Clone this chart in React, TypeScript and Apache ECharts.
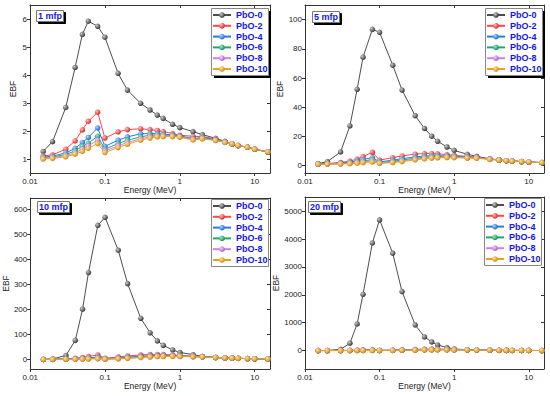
import React, { useEffect, useRef } from "react";
import * as echarts from "echarts";

const energies = [0.015, 0.02, 0.03, 0.04, 0.05, 0.06, 0.08, 0.1, 0.15, 0.2, 0.3, 0.4, 0.5, 0.6, 0.8, 1, 1.5, 2, 3, 4, 5, 6, 8, 10, 15];
const seriesNames = ["PbO-0", "PbO-2", "PbO-4", "PbO-6", "PbO-8", "PbO-10"];
const panelTitles = ["1 mfp", "5 mfp", "10 mfp", "20 mfp"];
const xTicks = [0.01, 0.1, 1, 10];
const yTicks1 = [1, 2, 3, 4, 5, 6];
const yTicks5 = [0, 20, 40, 60, 80, 100];
const yTicks10 = [0, 100, 200, 300, 400, 500, 600];
const yTicks20 = [0, 1000, 2000, 3000, 4000, 5000];

// 1 mfp
const mfp1_pbo0 = [1.27, 1.62, 2.84, 4.27, 5.45, 5.92, 5.74, 5.35, 4.06, 3.46, 2.99, 2.75, 2.57, 2.45, 2.24, 2.12, 1.98, 1.87, 1.74, 1.63, 1.54, 1.48, 1.42, 1.35, 1.25];
const mfp1_pbo2 = [1.11, 1.15, 1.35, 1.65, 2.04, 2.35, 2.67, 1.75, 1.97, 2.05, 2.08, 2.05, 2.02, 1.98, 1.91, 1.85, 1.81, 1.8, 1.72, 1.61, 1.54, 1.48, 1.42, 1.35, 1.25];
const mfp1_pbo4 = [1.07, 1.1, 1.22, 1.38, 1.59, 1.77, 2.11, 1.45, 1.67, 1.79, 1.9, 1.91, 1.91, 1.89, 1.86, 1.83, 1.73, 1.77, 1.7, 1.61, 1.54, 1.48, 1.42, 1.35, 1.25];
const mfp1_pbo6 = [1.05, 1.07, 1.16, 1.29, 1.45, 1.57, 1.81, 1.35, 1.55, 1.67, 1.79, 1.85, 1.86, 1.85, 1.84, 1.8, 1.71, 1.75, 1.68, 1.6, 1.54, 1.48, 1.42, 1.35, 1.25];
const mfp1_pbo8 = [1.03, 1.05, 1.12, 1.22, 1.35, 1.47, 1.67, 1.29, 1.47, 1.59, 1.72, 1.79, 1.83, 1.83, 1.82, 1.79, 1.7, 1.73, 1.67, 1.6, 1.54, 1.48, 1.42, 1.35, 1.25];
const mfp1_pbo10 = [1.0, 1.02, 1.08, 1.17, 1.27, 1.38, 1.55, 1.23, 1.41, 1.53, 1.67, 1.75, 1.79, 1.8, 1.8, 1.78, 1.68, 1.72, 1.66, 1.59, 1.54, 1.48, 1.42, 1.35, 1.25];

// 5 mfp
const mfp5_pbo0 = [1.4, 2.8, 9.4, 27.3, 52.3, 74.3, 93.3, 91.3, 68.8, 51.8, 34.2, 25.5, 20.2, 16.7, 12.8, 10.5, 7.8, 6.4, 4.6, 3.9, 3.4, 3.2, 2.8, 2.5, 2.1];
const mfp5_pbo2 = [1.3, 1.5, 2.2, 3.2, 4.5, 6.2, 9.2, 3.8, 5.5, 6.7, 7.9, 8.3, 8.3, 8.1, 7.6, 7.1, 6.3, 6.0, 4.7, 3.9, 3.4, 3.2, 2.8, 2.5, 2.1];
const mfp5_pbo4 = [1.2, 1.3, 1.8, 2.5, 3.3, 4.2, 5.6, 2.6, 3.8, 4.8, 6.0, 6.6, 6.8, 6.8, 6.7, 6.5, 5.9, 5.7, 4.6, 3.9, 3.4, 3.2, 2.8, 2.5, 2.1];
const mfp5_pbo6 = [1.1, 1.2, 1.5, 2.0, 2.6, 3.2, 4.2, 2.1, 3.0, 3.9, 5.1, 5.8, 6.1, 6.2, 6.2, 6.1, 5.6, 5.5, 4.5, 3.9, 3.4, 3.2, 2.8, 2.5, 2.1];
const mfp5_pbo8 = [1.05, 1.1, 1.3, 1.7, 2.1, 2.6, 3.3, 1.8, 2.5, 3.3, 4.5, 5.2, 5.6, 5.8, 5.9, 5.8, 5.4, 5.3, 4.4, 3.8, 3.4, 3.2, 2.8, 2.5, 2.1];
const mfp5_pbo10 = [1.0, 1.05, 1.2, 1.4, 1.7, 2.1, 2.6, 1.6, 2.1, 2.8, 4.0, 4.7, 5.2, 5.4, 5.6, 5.5, 5.2, 5.1, 4.3, 3.8, 3.4, 3.1, 2.8, 2.5, 2.1];

// 10 mfp
const mfp10_pbo0 = [1, 3, 17, 77, 201, 347, 535, 567, 436, 303, 165, 107, 75, 57, 39, 29, 20, 13, 9, 7, 6, 5.5, 4.5, 3.8, 3];
const mfp10_pbo2 = [1.5, 2, 3.5, 6, 9, 13, 19, 6, 11, 15, 19, 21, 21, 21, 19, 17, 14, 13, 9, 7, 6, 5.5, 4.5, 3.8, 3];
const mfp10_pbo4 = [1.3, 1.6, 2.5, 4, 5.5, 7.5, 10.5, 3.8, 7, 10, 14, 16, 17, 17, 16, 15, 13, 12, 9, 7, 6, 5.5, 4.5, 3.8, 3];
const mfp10_pbo6 = [1.2, 1.4, 2, 3, 4, 5, 7, 3, 5.5, 8, 12, 14, 15, 15.5, 15, 14, 12.5, 11.5, 8.8, 7, 6, 5.5, 4.5, 3.8, 3];
const mfp10_pbo8 = [1.1, 1.3, 1.7, 2.3, 3, 3.8, 5, 2.5, 4.2, 6.5, 10, 12, 13.5, 14, 14, 13.5, 12, 11, 8.6, 7, 6, 5.4, 4.5, 3.8, 3];
const mfp10_pbo10 = [1.0, 1.1, 1.4, 1.8, 2.3, 2.9, 3.8, 2.1, 3.4, 5.4, 8.5, 10.5, 12, 12.8, 13, 12.8, 11.5, 10.6, 8.4, 6.9, 5.9, 5.3, 4.4, 3.7, 3];

// 20 mfp
const mfp20_pbo0 = [2, 5, 45, 265, 957, 2020, 3863, 4689, 3493, 2117, 921, 490, 311, 203, 108, 60, 30, 18, 11, 8, 6.5, 6, 5, 4, 3.2];
const mfp20_pbo2 = [1.5, 2.5, 5, 9, 15, 23, 38, 10, 20, 30, 45, 52, 55, 54, 48, 42, 32, 27, 16, 11, 8.5, 7, 5.5, 4.5, 3.4];
const mfp20_pbo4 = [1.4, 2, 3.5, 5.5, 8, 11, 16, 5.5, 12, 20, 32, 38, 41, 41, 38, 34, 27, 23, 14, 10, 8, 6.8, 5.3, 4.3, 3.3];
const mfp20_pbo6 = [1.2, 1.6, 2.6, 4, 5.5, 7.5, 10, 4.2, 9, 15, 25, 31, 34, 35, 33, 30, 24, 21, 13.5, 9.5, 7.8, 6.6, 5.2, 4.2, 3.3];
const mfp20_pbo8 = [1.1, 1.4, 2.1, 3, 4, 5.2, 7, 3.4, 7, 12, 21, 27, 30, 31, 30, 27, 23, 20, 13, 9.3, 7.6, 6.5, 5.1, 4.2, 3.3];
const mfp20_pbo10 = [1.0, 1.2, 1.7, 2.3, 3, 3.8, 5, 2.7, 5.5, 9.5, 17, 23, 26, 28, 27, 25, 21, 18.5, 12.5, 9, 7.4, 6.4, 5, 4.1, 3.2];

const panelData = [
  [mfp1_pbo0, mfp1_pbo2, mfp1_pbo4, mfp1_pbo6, mfp1_pbo8, mfp1_pbo10],
  [mfp5_pbo0, mfp5_pbo2, mfp5_pbo4, mfp5_pbo6, mfp5_pbo8, mfp5_pbo10],
  [mfp10_pbo0, mfp10_pbo2, mfp10_pbo4, mfp10_pbo6, mfp10_pbo8, mfp10_pbo10],
  [mfp20_pbo0, mfp20_pbo2, mfp20_pbo4, mfp20_pbo6, mfp20_pbo8, mfp20_pbo10],
];

const FONT = "'Liberation Sans', Arial, sans-serif";
const lineColors = ["#4d4d4d", "#ff4545", "#1f7fe6", "#1fa86e", "#cf80ea", "#eaa21a"];
const ballLight = ["#c8c8c8", "#ffc0c0", "#b0d6ff", "#9fe6c4", "#f3d2ff", "#ffe2a6"];
const ballDark = ["#2e2e2e", "#e01818", "#1060d0", "#0f8a50", "#a850d0", "#d08400"];

const grids = [
  { left: 30, top: 5, width: 240, height: 168 },
  { left: 305, top: 5, width: 239, height: 168 },
  { left: 30, top: 198, width: 240, height: 171 },
  { left: 305, top: 197, width: 239, height: 172 },
];
const yRanges = [
  { min: 0.5, max: 6.5, ticks: yTicks1, gap: 13 },
  { min: -5, max: 110, ticks: yTicks5, gap: 20 },
  { min: -37, max: 644, ticks: yTicks10, gap: 20 },
  { min: -660, max: 5510, ticks: yTicks20, gap: 24 },
];
const legendBox = [
  { x: 211, y: 8, w: 57, h: 67, shadow: true },
  { x: 485, y: 8, w: 57, h: 67, shadow: true },
  { x: 211, y: 199, w: 57, h: 67, shadow: false },
  { x: 484, y: 198, w: 57, h: 67, shadow: false },
];
const titlePos = [
  { left: 36, top: 10 },
  { left: 312, top: 11 },
  { left: 37, top: 201 },
  { left: 308, top: 201 },
];

export default function App() {
  const ref = useRef<HTMLDivElement>(null);
  useEffect(() => {
    if (!ref.current) return;
    const chart = echarts.init(ref.current, null, { renderer: "svg" });
    const xAxis: any[] = [];
    const yAxis: any[] = [];
    const series: any[] = [];
    const legend: any[] = [];
    const title: any[] = [];
    const graphic: any[] = [];
    const axisColor = "#333";
    const fmt = (v: number) => String(+Number(v).toPrecision(6));
    grids.forEach((g, p) => {
      xAxis.push({
        type: "log", logBase: 10, gridIndex: p, min: 0.01, max: 16,
        name: "Energy (MeV)", nameLocation: "middle", nameGap: 12,
        nameTextStyle: { fontSize: 8.5, color: "#222", fontFamily: FONT },
        axisLine: { onZero: false, lineStyle: { color: axisColor, width: 1 } },
        axisTick: { customValues: xTicks, length: 3, lineStyle: { color: axisColor } },
        axisLabel: { customValues: xTicks, formatter: fmt, fontSize: 8, margin: 4, color: "#222", fontFamily: FONT },
        splitLine: { show: false },
      });
      xAxis.push({
        type: "log", logBase: 10, gridIndex: p, min: 0.01, max: 16, position: "top",
        axisLine: { onZero: false, lineStyle: { color: axisColor, width: 1 } },
        axisTick: { customValues: xTicks, inside: true, length: 3, lineStyle: { color: axisColor } },
        axisLabel: { show: false },
        splitLine: { show: false },
      });
      const yr = yRanges[p];
      yAxis.push({
        type: "value", gridIndex: p, min: yr.min, max: yr.max,
        name: "EBF", nameLocation: "middle", nameGap: yr.gap,
        nameTextStyle: { fontSize: 8.5, color: "#222", fontFamily: FONT },
        axisLine: { show: true, onZero: false, lineStyle: { color: axisColor, width: 1 } },
        axisTick: { show: true, customValues: yr.ticks, length: 3, lineStyle: { color: axisColor } },
        axisLabel: { customValues: yr.ticks, formatter: fmt, fontSize: 8, margin: 3, color: "#222", fontFamily: FONT },
        splitLine: { show: false },
      });
      yAxis.push({
        type: "value", gridIndex: p, min: yr.min, max: yr.max, position: "right",
        axisLine: { show: true, onZero: false, lineStyle: { color: axisColor, width: 1 } },
        axisTick: { show: true, customValues: yr.ticks, inside: true, length: 3, lineStyle: { color: axisColor } },
        axisLabel: { show: false },
        splitLine: { show: false },
      });
      panelData[p].forEach((vals, s) => {
        series.push({
          type: "line", name: seriesNames[s], xAxisIndex: p * 2, yAxisIndex: p * 2,
          data: energies.map((e, i) => [e, vals[i]]),
          symbol: "circle", symbolSize: 5.5, showSymbol: true,
          lineStyle: { width: 1, color: lineColors[s] },
          itemStyle: {
            color: new echarts.graphic.RadialGradient(0.35, 0.35, 0.7, [
              { offset: 0, color: ballLight[s] },
              { offset: 1, color: ballDark[s] },
            ]),
          },
          z: 2 + s,
        });
      });
      const lb = legendBox[p];
      if (lb.shadow) {
        graphic.push({
          type: "rect", z: 20, silent: true,
          shape: { x: lb.x + 3, y: lb.y + 3, width: lb.w, height: lb.h },
          style: { fill: "#000" },
        });
      }
      graphic.push({
        type: "rect", z: 21, silent: true,
        shape: { x: lb.x + 0.5, y: lb.y + 0.5, width: lb.w, height: lb.h },
        style: { fill: "#fff", stroke: "#888", lineWidth: 1 },
      });
      legend.push({
        left: lb.x + 1, top: lb.y + 2, orient: "vertical", data: seriesNames,
        backgroundColor: "transparent", borderWidth: 0,
        padding: 0, itemWidth: 18, itemHeight: 7, itemGap: 0.8,
        selectedMode: false, z: 30,
        textStyle: { color: "#1414f0", fontWeight: "bold", fontSize: 9, lineHeight: 10, fontFamily: FONT },
      });
      const tp = titlePos[p];
      title.push({
        text: panelTitles[p], left: tp.left, top: tp.top,
        padding: [1, 2], backgroundColor: "#fff", borderColor: "#777", borderWidth: 1,
        shadowColor: "#000", shadowOffsetX: 2, shadowOffsetY: 2, shadowBlur: 0,
        textStyle: { color: "#1414f0", fontWeight: "bold", fontSize: 9, lineHeight: 10, fontFamily: FONT },
      });
    });
    chart.setOption({
      animation: false,
      backgroundColor: "#fff",
      textStyle: { fontFamily: FONT },
      grid: grids.map((g) => ({ ...g, containLabel: false })),
      xAxis, yAxis, series, legend, title, graphic,
    });
    return () => chart.dispose();
  }, []);
  return <div ref={ref} style={{ position: "fixed", left: 0, top: 0, width: 550, height: 396 }} />;
}
